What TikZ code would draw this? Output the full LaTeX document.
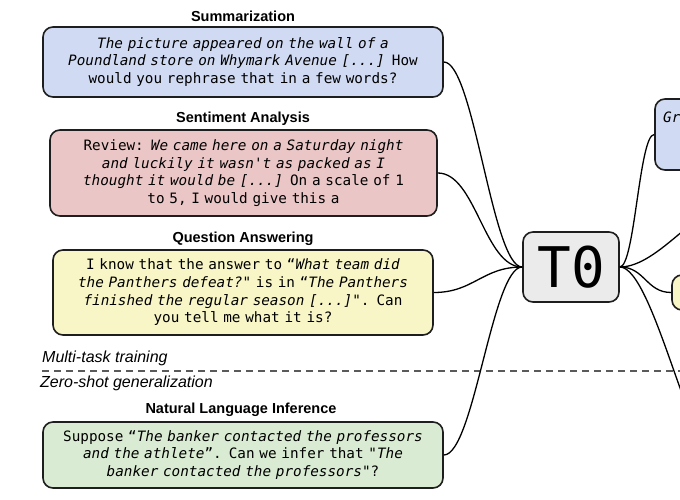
\documentclass[tikz,border=0pt]{standalone}
\usepackage{fontspec}
\setmainfont{Liberation Sans}
\setsansfont{Liberation Sans}
\setmonofont{DejaVu Sans Mono}
\definecolor{bluebox}{RGB}{208,218,242}
\definecolor{pinkbox}{RGB}{235,198,198}
\definecolor{yellowbox}{RGB}{248,246,199}
\definecolor{greenbox}{RGB}{217,235,210}
\definecolor{graybox}{RGB}{235,235,235}
\definecolor{edge}{RGB}{30,30,30}
\definecolor{dashgray}{RGB}{90,90,90}
\tikzset{
  taskbox/.style={draw=edge, line width=1.6pt, rounded corners=10pt, inner sep=0pt,
    font=\ttfamily\fontsize{14.3}{17.7}\selectfont, align=center},
  tasktitle/.style={font=\sffamily\bfseries\fontsize{14.5}{17}\selectfont, inner sep=0pt},
  phase/.style={font=\sffamily\itshape\fontsize{16}{19}\selectfont, inner sep=0pt, anchor=west},
  conn/.style={line width=1.3pt, black},
}
\begin{document}
\begin{tikzpicture}[x=1pt,y=-1pt]
\useasboundingbox (0,0) rectangle (680,500);
\clip (0,0) rectangle (680,500);

% titles
\node[tasktitle] (tsum) at (243,16) {Summarization};
\node[tasktitle] (tsen) at (243,119) {Sentiment Analysis};
\node[tasktitle] (tqa) at (243,239) {Question Answering};
\node[tasktitle] (tnli) at (241,410) {Natural Language Inference};

% task boxes
\node[taskbox, fill=bluebox, text width=400pt, minimum height=70pt] (sum) at (243,62)
  {\textit{The picture appeared on the wall of a}\\
   \textit{Poundland store on Whymark Avenue [...]} How\\
   would you rephrase that in a few words?};
\node[taskbox, fill=pinkbox, text width=387pt, minimum height=86pt] (sen) at (243.5,173)
  {Review: \textit{We came here on a Saturday night}\\
   \textit{and luckily it wasn't as packed as I}\\
   \textit{thought it would be [...]} On a scale of 1\\
   to 5, I would give this a};
\node[taskbox, fill=yellowbox, text width=380pt, minimum height=85pt] (qa) at (243,292.5)
  {I know that the answer to “\textit{What team did}\\
   \textit{the Panthers defeat?}" is in “\textit{The Panthers}\\
   \textit{finished the regular season [...]}". Can\\
   you tell me what it is?};
\node[taskbox, fill=greenbox, text width=400pt, minimum height=66pt] (nli) at (243,455)
  {Suppose “\textit{The banker contacted the professors}\\
   \textit{and the athlete}”. Can we infer that "\textit{The}\\
   \textit{banker contacted the professors}"?};

% phase labels and divider
\node[phase] (mtt) at (42,358) {Multi-task training};
\node[phase] (zsg) at (40,383) {Zero-shot generalization};
\coordinate (dl) at (42,371);
\coordinate (dr) at (680,371);
\draw[dashgray, line width=1.5pt, dash pattern=on 7pt off 5pt] (dl) -- (dr);

% model
\node[taskbox, fill=graybox, minimum width=96pt, minimum height=70pt,
      font=\ttfamily\fontsize{56}{56}\selectfont] (t0) at (571,267) {T0};

% right side boxes (cropped)
\node[taskbox, fill=bluebox, minimum width=100pt, minimum height=71pt] (gr) at (705,134.5) {};
\node[font=\ttfamily\itshape\fontsize{14.3}{17.7}\selectfont, inner sep=0pt, anchor=west] (grt) at (663,117) {Gr};
\node[taskbox, fill=yellowbox, minimum width=100pt, minimum height=35pt] (yb) at (722,292.5) {};
\coordinate (offA) at (740,200);
\coordinate (offB) at (730,480);

% connectors
\draw[conn] (sum.east) .. controls +(30,0) and +(-30,0) .. (t0.west);
\draw[conn] (sen.east) .. controls +(38,0) and +(-38,0) .. (t0.west);
\draw[conn] (qa.east) .. controls +(40,0) and +(-40,0) .. (t0.west);
\draw[conn] (nli.east) .. controls +(30,0) and +(-30,0) .. (t0.west);
\draw[conn] (t0.east) .. controls +(15,0) and +(-15,0) .. (gr.west);
\draw[conn] (t0.east) .. controls +(40,0) and +(-40,0) .. (offA);
\draw[conn] (t0.east) .. controls +(25,0) and +(-25,0) .. (yb.west);
\draw[conn] (t0.east) .. controls +(35,0) and +(-35,0) .. (offB);
\end{tikzpicture}
\end{document}
